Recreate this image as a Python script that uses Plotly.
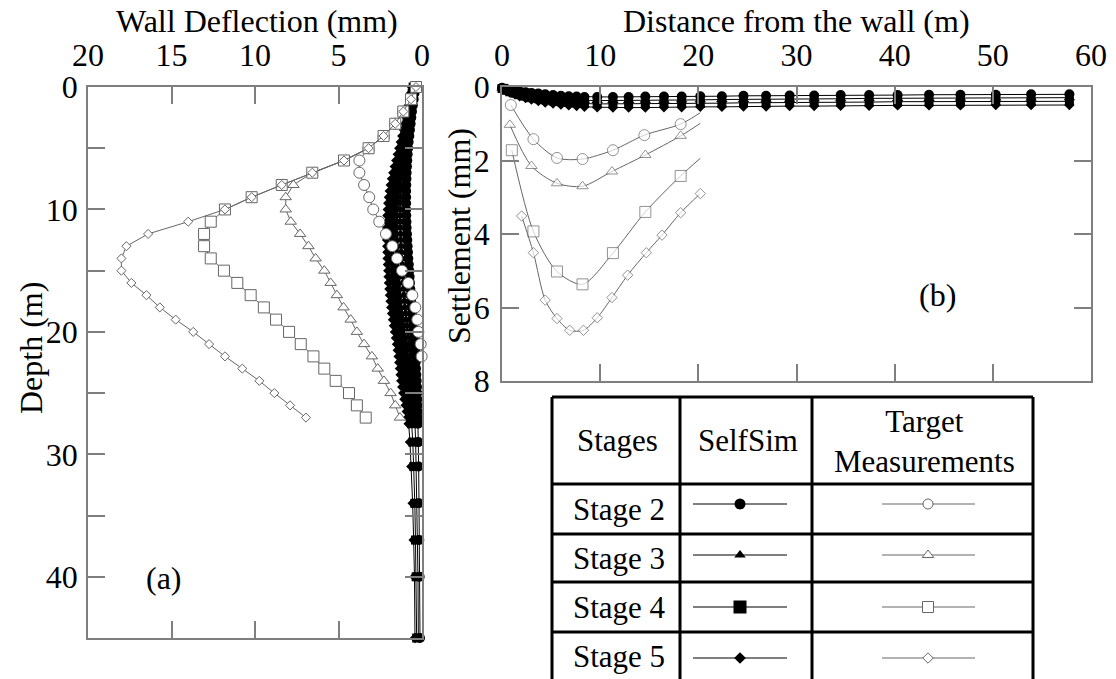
import plotly.graph_objects as go

FONT = "Liberation Serif"
W, H = 1116, 679
GREY = "#666666"
AXC = "#7f7f7f"

# ---------------- Panel (a): wall deflection vs depth ----------------
depth_sim = [0, 0.5, 1, 1.5, 2, 2.5, 3, 3.5, 4, 4.5, 5, 5.5, 6, 6.5, 7, 7.5, 8, 8.5, 9, 9.5,
             10, 10.5, 11, 11.5, 12, 12.5, 13, 13.5, 14, 14.5, 15, 15.5, 16, 16.5, 17, 17.5,
             18, 18.5, 19, 19.5, 20, 20.5, 21, 21.5, 22, 22.5, 23, 23.5, 24, 24.5, 25, 25.5,
             26, 26.5, 27, 27.5, 29, 31, 34, 37, 40, 45]
sim_defl_s2 = [0.40, 0.45, 0.50, 0.55, 0.60, 0.64, 0.68, 0.72, 0.76, 0.80, 0.83, 0.86, 0.88, 0.90,
               0.92, 0.93, 0.94, 0.95, 0.95, 0.95, 0.95, 0.94, 0.93, 0.92, 0.90, 0.88, 0.86, 0.84,
               0.82, 0.79, 0.76, 0.74, 0.72, 0.70, 0.68, 0.66, 0.63, 0.60, 0.57, 0.54, 0.51, 0.48,
               0.45, 0.42, 0.40, 0.38, 0.36, 0.34, 0.32, 0.30, 0.29, 0.28, 0.27, 0.26, 0.25, 0.24,
               0.22, 0.20, 0.18, 0.16, 0.14, 0.12]
sim_defl_s3 = [0.47, 0.52, 0.57, 0.63, 0.69, 0.74, 0.79, 0.84, 0.90, 0.96, 1.01, 1.05, 1.10, 1.14,
               1.18, 1.22, 1.25, 1.27, 1.29, 1.30, 1.31, 1.31, 1.31, 1.31, 1.29, 1.28, 1.26, 1.25,
               1.23, 1.20, 1.18, 1.16, 1.14, 1.11, 1.09, 1.06, 1.03, 0.99, 0.96, 0.92, 0.88, 0.84,
               0.80, 0.76, 0.73, 0.70, 0.68, 0.65, 0.62, 0.59, 0.56, 0.53, 0.50, 0.47, 0.45, 0.42,
               0.38, 0.35, 0.31, 0.27, 0.24, 0.22]
sim_defl_s4 = [0.53, 0.59, 0.65, 0.71, 0.77, 0.83, 0.90, 0.97, 1.04, 1.11, 1.19, 1.26, 1.32, 1.39,
               1.46, 1.51, 1.56, 1.61, 1.64, 1.67, 1.69, 1.70, 1.70, 1.70, 1.70, 1.69, 1.68, 1.66,
               1.65, 1.63, 1.60, 1.58, 1.56, 1.54, 1.51, 1.48, 1.44, 1.40, 1.35, 1.30, 1.25, 1.20,
               1.15, 1.11, 1.07, 1.04, 1.00, 0.97, 0.94, 0.89, 0.85, 0.80, 0.75, 0.70, 0.65, 0.62,
               0.55, 0.49, 0.43, 0.39, 0.35, 0.32]
sim_defl_s5 = [0.60, 0.66, 0.72, 0.79, 0.86, 0.93, 1.01, 1.09, 1.18, 1.27, 1.36, 1.45, 1.54, 1.63,
               1.72, 1.80, 1.87, 1.93, 1.98, 2.02, 2.05, 2.07, 2.08, 2.09, 2.09, 2.09, 2.08, 2.07,
               2.06, 2.04, 2.02, 2.00, 1.98, 1.95, 1.92, 1.88, 1.84, 1.79, 1.74, 1.68, 1.62, 1.56,
               1.50, 1.45, 1.40, 1.36, 1.32, 1.28, 1.24, 1.18, 1.12, 1.05, 0.98, 0.91, 0.85, 0.80,
               0.72, 0.64, 0.56, 0.50, 0.45, 0.42]

depth_meas_s2 = [0, 1, 2, 3, 4, 5, 6, 7, 8, 9, 10, 11, 12, 13, 14, 15, 16, 17, 18, 19, 20, 21, 22]
meas_defl_s2 = [0.36, 0.66, 1.12, 1.60, 2.30, 3.20, 3.75, 3.75, 3.47, 3.16, 2.92, 2.56, 2.16, 1.78,
                1.50, 1.20, 0.82, 0.58, 0.40, 0.28, 0.22, 0.08, 0.02]
depth_meas = [0, 1, 2, 3, 4, 5, 6, 7, 8, 9, 10, 11, 12, 13, 14, 15, 16, 17, 18, 19, 20, 21, 22, 23,
              24, 25, 26, 27]
meas_defl_s3 = [0.36, 0.66, 1.12, 1.60, 2.30, 3.20, 4.67, 6.57, 7.70, 8.16, 8.16, 7.86, 7.30, 6.80,
                6.37, 5.85, 5.47, 5.10, 4.70, 4.27, 3.90, 3.47, 3.00, 2.65, 2.28, 1.88, 1.60, 1.32]
meas_defl_s4 = [0.36, 0.66, 1.12, 1.60, 2.30, 3.20, 4.67, 6.57, 8.40, 10.20, 11.80, 12.65, 13.05,
                13.05, 12.65, 11.86, 11.06, 10.26, 9.47, 8.74, 7.96, 7.26, 6.50, 5.85, 5.17, 4.37,
                3.90, 3.37]
meas_defl_s5 = [0.36, 0.66, 1.12, 1.60, 2.30, 3.20, 4.67, 6.57, 8.40, 10.20, 11.80, 14.00, 16.40,
                17.70, 18.00, 18.00, 17.40, 16.50, 15.70, 14.75, 13.70, 12.75, 11.80, 10.76, 9.74,
                8.84, 7.90, 6.95]

# ---------------- Panel (b): settlement vs distance ----------------
dist_sim = [0, 0.4, 0.8, 1.3, 1.8, 2.4, 3.0, 3.7, 4.4, 5.2, 6.0, 6.8, 7.6, 8.4, 9.7, 11.3, 12.9,
            14.6, 16.5, 18.3, 20.2, 22.4, 24.6, 26.9, 29.3, 31.8, 34.5, 37.4, 40.3, 43.5, 46.7,
            50.3, 53.9, 57.8]
sim_sett_s2 = [0.02, 0.05, 0.08, 0.10, 0.12, 0.14, 0.16, 0.18, 0.20, 0.22, 0.24, 0.25, 0.26, 0.27,
               0.27, 0.27, 0.27, 0.26, 0.26, 0.26, 0.25, 0.25, 0.24, 0.24, 0.23, 0.23, 0.22, 0.22,
               0.22, 0.21, 0.21, 0.21, 0.20, 0.20]
sim_sett_s3 = [0.03, 0.07, 0.11, 0.14, 0.17, 0.20, 0.23, 0.26, 0.28, 0.30, 0.32, 0.34, 0.35, 0.36,
               0.37, 0.37, 0.37, 0.36, 0.36, 0.35, 0.35, 0.34, 0.34, 0.33, 0.33, 0.32, 0.32, 0.31,
               0.31, 0.31, 0.30, 0.30, 0.30, 0.29]
sim_sett_s4 = [0.04, 0.09, 0.13, 0.17, 0.21, 0.25, 0.29, 0.32, 0.35, 0.38, 0.40, 0.42, 0.44, 0.45,
               0.46, 0.46, 0.46, 0.46, 0.45, 0.45, 0.44, 0.44, 0.43, 0.43, 0.42, 0.42, 0.41, 0.41,
               0.40, 0.40, 0.40, 0.39, 0.39, 0.39]
sim_sett_s5 = [0.05, 0.10, 0.15, 0.20, 0.25, 0.30, 0.34, 0.38, 0.42, 0.45, 0.48, 0.50, 0.52, 0.54,
               0.55, 0.56, 0.56, 0.56, 0.55, 0.55, 0.54, 0.54, 0.53, 0.53, 0.52, 0.52, 0.51, 0.51,
               0.50, 0.50, 0.50, 0.49, 0.49, 0.49]

dist_meas_s2 = [0.9, 3.2, 5.6, 8.2, 11.3, 14.5, 18.2, 20.2]
meas_sett_s2 = [0.49, 1.42, 1.93, 1.96, 1.72, 1.31, 1.01, 0.70]
dist_meas_s3 = [0.8, 3.0, 5.6, 8.2, 11.2, 14.6, 18.2, 20.2]
meas_sett_s3 = [1.03, 2.15, 2.62, 2.70, 2.30, 1.85, 1.33, 0.99]
dist_meas_s4 = [1.0, 3.2, 5.6, 8.2, 11.3, 14.6, 18.2, 20.2]
meas_sett_s4 = [1.72, 3.93, 5.02, 5.37, 4.52, 3.40, 2.42, 1.94]
dist_meas_s5 = [2.0, 3.2, 4.4, 5.6, 6.9, 8.3, 9.7, 11.2, 12.8, 14.7, 16.3, 18.2, 20.2]
meas_sett_s5 = [3.51, 4.51, 5.80, 6.30, 6.62, 6.62, 6.28, 5.73, 5.12, 4.51, 4.03, 3.42, 2.90]

# table / legend
stage_labels = ["Stage 2", "Stage 3", "Stage 4", "Stage 5"]
sim_symbols = ["circle", "triangle-up", "square", "diamond"]

fig = go.Figure()

# ---- panel (a) SelfSim (black filled) ----
sim_a = [sim_defl_s2, sim_defl_s3, sim_defl_s4, sim_defl_s5]
sim_sizes = [10, 10, 9, 8]
for vals, sym, sz in zip(sim_a, sim_symbols, sim_sizes):
    fig.add_trace(go.Scatter(x=vals, y=depth_sim, mode="lines+markers", xaxis="x", yaxis="y",
                             line=dict(color="black", width=1),
                             marker=dict(symbol=sym, size=sz, color="black"),
                             cliponaxis=False, showlegend=False))

# ---- panel (a) measurements (open grey, white filled) ----
meas_a = [(meas_defl_s2, depth_meas_s2, "circle", 11),
          (meas_defl_s3, depth_meas, "triangle-up", 10),
          (meas_defl_s4, depth_meas, "square", 11),
          (meas_defl_s5, depth_meas, "diamond", 7)]
for xv, yv, sym, sz in meas_a:
    fig.add_trace(go.Scatter(x=xv, y=yv, mode="lines+markers", xaxis="x", yaxis="y",
                             line=dict(color=GREY, width=1),
                             marker=dict(symbol=sym, size=sz, color="white",
                                         line=dict(color=GREY, width=1)),
                             cliponaxis=False, showlegend=False))

# ---- panel (b) SelfSim ----
sim_b = [sim_sett_s2, sim_sett_s3, sim_sett_s4, sim_sett_s5]
for vals, sym, sz in zip(sim_b, sim_symbols, sim_sizes):
    fig.add_trace(go.Scatter(x=dist_sim, y=vals, mode="lines+markers", xaxis="x2", yaxis="y2",
                             line=dict(color="black", width=1),
                             marker=dict(symbol=sym, size=sz, color="black"),
                             cliponaxis=False, showlegend=False))

# ---- panel (b) measurements ----
meas_b = [(dist_meas_s2, meas_sett_s2, "circle", 11, True),
          (dist_meas_s3, meas_sett_s3, "triangle-up", 10, True),
          (dist_meas_s4, meas_sett_s4, "square", 11, True),
          (dist_meas_s5, meas_sett_s5, "diamond", 8, False)]
for xv, yv, sym, sz, hide_last in meas_b:
    sizes = [sz] * len(xv)
    if hide_last:
        sizes[-1] = 0
    fig.add_trace(go.Scatter(x=xv, y=yv, mode="lines+markers", xaxis="x2", yaxis="y2",
                             line=dict(color=GREY, width=1, shape="spline", smoothing=0.8),
                             marker=dict(symbol=sym, size=sizes, color="white",
                                         line=dict(color=GREY, width=1)),
                             cliponaxis=False, showlegend=False))

# ---- table (pixel overlay axes x3/y3) ----
TL, TR = 552, 1033
C1, C2 = 680, 812
TTOP = 397
ROWS = [484, 534, 582, 632]
TBOT = 700
shapes = []
def hline(y, x0=TL, x1=TR):
    shapes.append(dict(type="line", xref="x3", yref="y3", x0=x0, x1=x1, y0=y, y1=y,
                       line=dict(color="black", width=3)))
def vline(x, y0=TTOP, y1=TBOT):
    shapes.append(dict(type="line", xref="x3", yref="y3", x0=x, x1=x, y0=y0, y1=y1,
                       line=dict(color="black", width=3)))
hline(TTOP)
for r in ROWS:
    hline(r)
for c in [TL, C1, C2, TR]:
    vline(c)

row_y = [509, 558, 607, 656]
sample_y = [504, 555, 607, 658]
annotations = []
def txt(x, y, s, size=31, **kw):
    annotations.append(dict(x=x, y=y, xref="x3", yref="y3", text=s, showarrow=False,
                            font=dict(family=FONT, size=size, color="black"),
                            xanchor="center", yanchor="middle", **kw))

txt(617, 440, "Stages")
txt(748, 440, "SelfSim")
txt(924, 441, "Target<br>Measurements")
for lab, y in zip(stage_labels, row_y):
    txt(619, y, lab)

# legend sample lines + markers
sim_leg_sizes = [11, 10, 13, 9]
meas_leg_sizes = [10, 10, 11, 8]
for i in range(4):
    fig.add_trace(go.Scatter(x=[693, 787], y=[sample_y[i], sample_y[i]], mode="lines",
                             xaxis="x3", yaxis="y3", line=dict(color="black", width=1.2),
                             showlegend=False, hoverinfo="skip"))
    fig.add_trace(go.Scatter(x=[740], y=[sample_y[i]], mode="markers", xaxis="x3", yaxis="y3",
                             marker=dict(symbol=sim_symbols[i], size=sim_leg_sizes[i], color="black"),
                             showlegend=False, hoverinfo="skip"))
    fig.add_trace(go.Scatter(x=[882, 975], y=[sample_y[i], sample_y[i]], mode="lines",
                             xaxis="x3", yaxis="y3", line=dict(color=GREY, width=1),
                             showlegend=False, hoverinfo="skip"))
    fig.add_trace(go.Scatter(x=[928], y=[sample_y[i]], mode="markers", xaxis="x3", yaxis="y3",
                             marker=dict(symbol=sim_symbols[i], size=meas_leg_sizes[i], color="white",
                                         line=dict(color=GREY, width=1)),
                             showlegend=False, hoverinfo="skip"))

# titles and panel labels
txt(257, 21, "Wall Deflection (mm)", size=32)
txt(796, 21, "Distance from the wall (m)", size=32)
txt(31, 348, "Depth (m)", size=32, textangle=-90)
txt(459, 236, "Settlement (mm)", size=32, textangle=-90)
txt(164, 578, "(a)", size=32)
txt(937, 295, "(b)", size=32)

axis_common = dict(showline=True, linecolor=AXC, linewidth=1.5, ticks="inside", ticklen=17,
                   tickcolor=AXC, tickwidth=1.5, mirror="ticks", showgrid=False, zeroline=False,
                   automargin=False,
                   tickfont=dict(family=FONT, size=32, color="black"))

fig.update_layout(
    template="none",
    width=W, height=H, autosize=False,
    margin=dict(l=0, r=0, t=0, b=0, pad=0),
    paper_bgcolor="white", plot_bgcolor="rgba(0,0,0,0)",
    showlegend=False,
    xaxis=dict(domain=[88 / W, 422 / W], anchor="y", side="top", range=[20, 0],
               tickvals=[0, 5, 10, 15, 20], ticktext=["0", "5", "10", "15", "20"],
               ticklabelstandoff=6, **axis_common),
    yaxis=dict(domain=[1 - 638 / H, 1 - 87 / H], anchor="x", range=[45, 0],
               tickvals=[0, 5, 10, 15, 20, 25, 30, 35, 40, 45],
               ticktext=["0", "", "10", "", "20", "", "30", "", "40", ""],
               ticklabelstandoff=2, **axis_common),
    xaxis2=dict(domain=[502 / W, 1091 / W], anchor="y2", side="top", range=[0, 60],
                tickvals=[0, 10, 20, 30, 40, 50, 60], ticklabelstandoff=6, **axis_common),
    yaxis2=dict(domain=[1 - 381 / H, 1 - 87 / H], anchor="x2", range=[8, 0],
                tickvals=[0, 2, 4, 6, 8], ticklabelstandoff=4, **axis_common),
    xaxis3=dict(domain=[0, 1], anchor="y3", range=[0, W], visible=False, fixedrange=True,
                automargin=False),
    yaxis3=dict(domain=[0, 1], anchor="x3", range=[H, 0], visible=False, fixedrange=True,
                automargin=False),
    shapes=shapes,
    annotations=annotations,
)

fig.write_html("out.html", config={"displayModeBar": False},
               post_script="document.body.style.margin='0';")
